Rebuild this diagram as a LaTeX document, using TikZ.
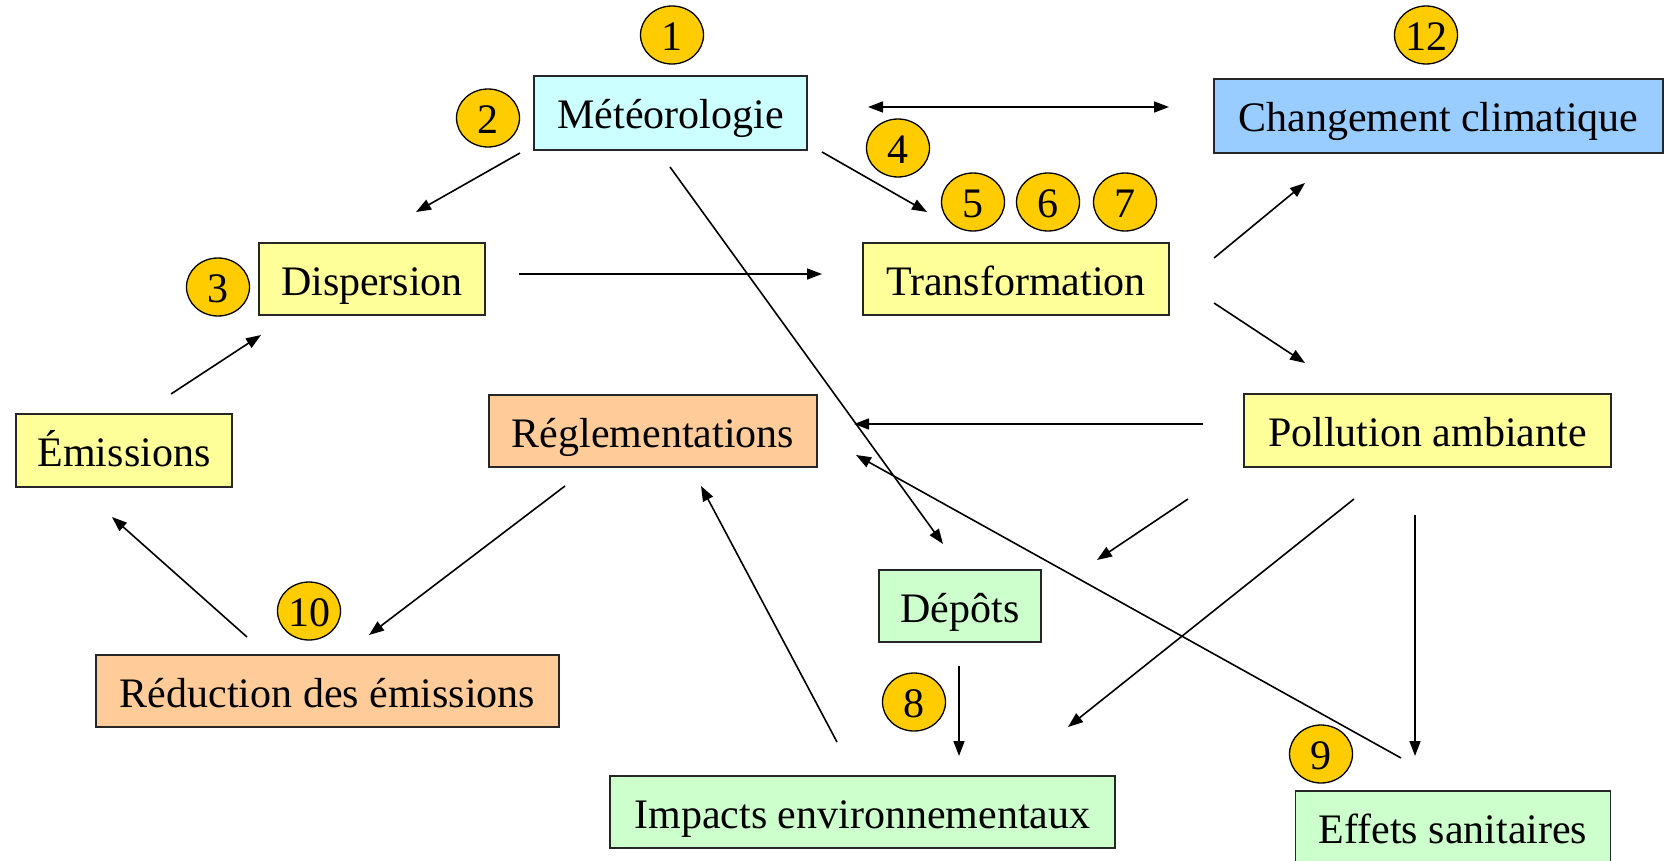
\documentclass[tikz,border=0pt]{standalone}
\usepackage{fontspec}
\setmainfont{Liberation Serif}
\usetikzlibrary{arrows.meta,shapes.geometric}

\definecolor{jaune}{HTML}{FFFF99}
\definecolor{cyanpale}{HTML}{CCFFFF}
\definecolor{bleuclim}{HTML}{99CCFF}
\definecolor{orange}{HTML}{FFCC99}
\definecolor{vert}{HTML}{CCFFCC}
\definecolor{pastille}{HTML}{FFCC00}

\tikzset{
  boite/.style={draw=black!85,line width=1.6pt,inner sep=0pt,
    text height=37pt,text depth=5pt,
    font=\fontsize{42}{50}\selectfont},
  num/.style={draw=black,ellipse,fill=pastille,line width=1.3pt,
    minimum width=63pt,minimum height=53pt,inner sep=0pt,
    text height=36pt,text depth=5pt,
    font=\fontsize{42}{50}\selectfont},
  fl/.style={-{Triangle[length=15pt,width=11pt]},line width=1.6pt},
}

\begin{document}
\begin{tikzpicture}[x=1pt,y=-1pt]
\useasboundingbox (0,0) rectangle (1664,861);

% boites
\node[boite,fill=cyanpale,minimum width=273pt,minimum height=74pt] (meteo)  at (670.5,113) {Météorologie};
\node[boite,fill=jaune,minimum width=226pt,minimum height=72pt]    (disp)   at (372,279)   {Dispersion};
\node[boite,fill=jaune,minimum width=306pt,minimum height=72pt]    (transf) at (1016,279)  {Transformation};
\node[boite,fill=bleuclim,minimum width=449pt,minimum height=74pt] (clim)   at (1438.5,116) {Changement climatique};
\node[boite,fill=jaune,minimum width=216pt,minimum height=73pt]    (emis)   at (124,450.5) {Émissions};
\node[boite,fill=orange,minimum width=328pt,minimum height=72pt]   (regl)   at (653,431)   {Réglementations};
\node[boite,fill=jaune,minimum width=367pt,minimum height=73pt]    (pollu)  at (1427.5,430.5) {Pollution ambiante};
\node[boite,fill=vert,minimum width=162pt,minimum height=72pt]     (depot)  at (960,606)   {Dépôts};
\node[boite,fill=orange,minimum width=463pt,minimum height=72pt]   (reduc)  at (327.5,691) {Réduction des émissions};
\node[boite,fill=vert,minimum width=505pt,minimum height=72pt]     (impact) at (862.5,812) {Impacts environnementaux};
\node[boite,fill=vert,minimum width=315pt,minimum height=72pt]     (effets) at (1453,827)  {Effets sanitaires};

% pastilles
\node[num] (n1)  at (672,35)   {1};
\node[num] (n2)  at (488,118)  {2};
\node[num] (n3)  at (218,287)  {3};
\node[num] (n4)  at (898,148)  {4};
\node[num] (n5)  at (973,202)  {5};
\node[num] (n6)  at (1048,202) {6};
\node[num] (n7)  at (1125,202) {7};
\node[num] (n8)  at (914,702)  {8};
\node[num] (n9)  at (1321,754) {9};
\node[num] (n10) at (309,611)  {10};
\node[num] (n12) at (1426,35)  {12};

% fleches
\draw[fl] ([shift={(-150.5,40)}]meteo.center) -- ([shift={(44,-67)}]disp.center);
\draw[fl] ([shift={(151.5,39)}]meteo.center) -- ([shift={(-89,-67)}]transf.center);
\draw[fl,{Triangle[length=15pt,width=11pt]}-{Triangle[length=15pt,width=11pt]}]
  ([shift={(197.5,-6)}]meteo.center) -- ([shift={(-269.5,-9)}]clim.center);
\draw[fl] ([shift={(147,-5)}]disp.center) -- ([shift={(-194,-5)}]transf.center);
\draw[fl] ([shift={(47,-56.5)}]emis.center) -- ([shift={(-111,56)}]disp.center);
\draw[fl] ([shift={(198,-21)}]transf.center) -- ([shift={(-133.5,67)}]clim.center);
\draw[fl] ([shift={(198,24)}]transf.center) -- ([shift={(-122.5,-67.5)}]pollu.center);
\draw[fl] ([shift={(-224.5,-6.5)}]pollu.center) -- ([shift={(201,-7)}]regl.center);
\draw[fl] ([shift={(-0.5,54)}]meteo.center) -- ([shift={(-17,-62)}]depot.center);
\draw[fl] ([shift={(-239.5,68.5)}]pollu.center) -- ([shift={(137,-46)}]depot.center);
\draw[fl] ([shift={(-73.5,68.5)}]pollu.center) -- ([shift={(205.5,-85)}]impact.center);
\draw[fl] ([shift={(-12.5,84.5)}]pollu.center) -- ([shift={(-38,-71)}]effets.center);
\draw[fl] ([shift={(-52,-69)}]effets.center) -- ([shift={(203,24)}]regl.center);
\draw[fl] ([shift={(-1,60)}]depot.center) -- ([shift={(96.5,-56)}]impact.center);
\draw[fl] ([shift={(-88,55)}]regl.center) -- ([shift={(41.5,-56)}]reduc.center);
\draw[fl] ([shift={(-80.5,-54)}]reduc.center) -- ([shift={(-12,66.5)}]emis.center);
\draw[fl] ([shift={(-25.5,-70)}]impact.center) -- ([shift={(48,55)}]regl.center);
\end{tikzpicture}
\end{document}
